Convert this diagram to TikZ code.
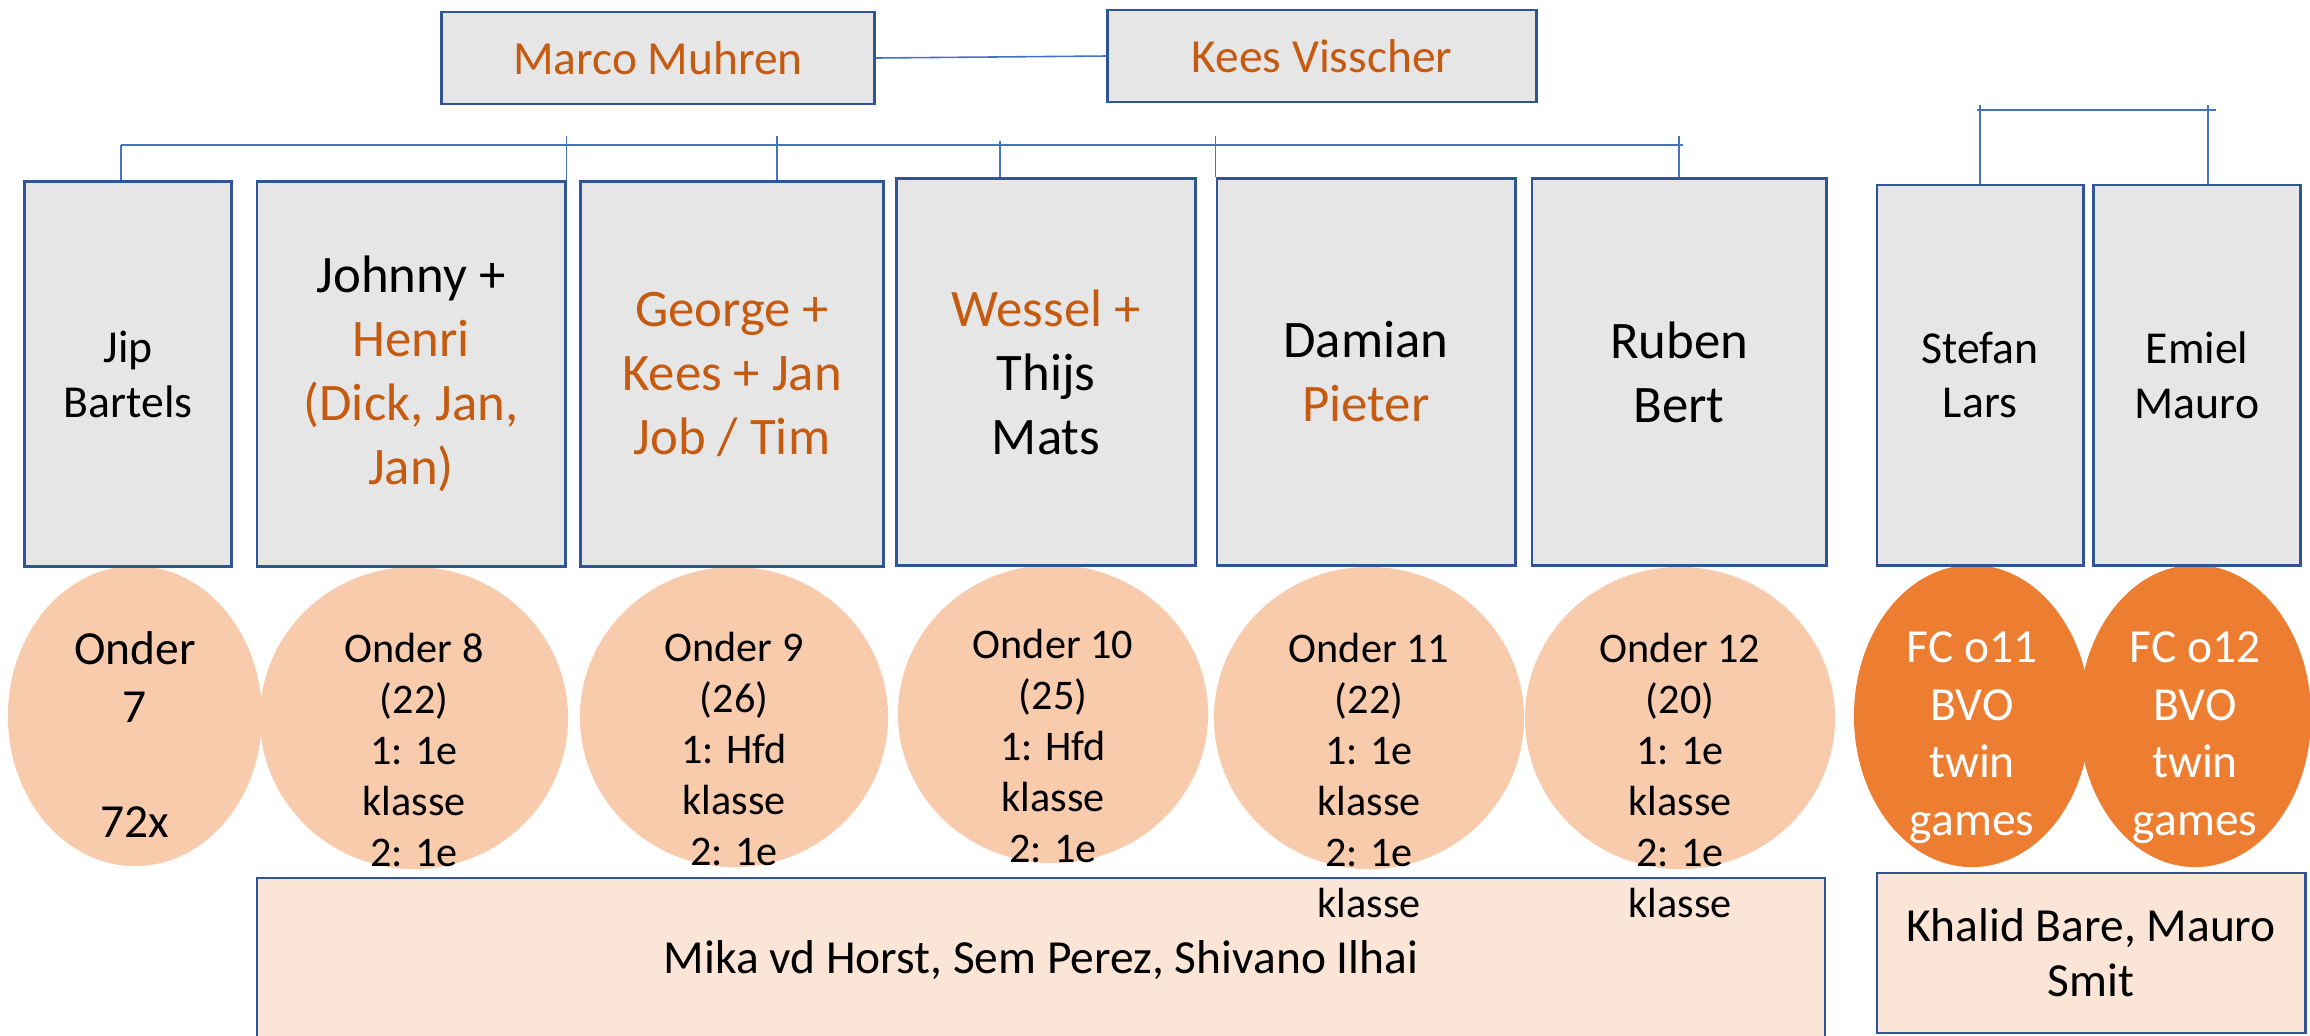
\documentclass[tikz,border=0pt]{standalone}
\usepackage{fontspec}
\setmainfont{Carlito}
\usetikzlibrary{shapes.geometric}

\definecolor{boxgray}{HTML}{E6E6E6}
\definecolor{boxblue}{HTML}{2F5597}
\definecolor{linkblue}{HTML}{4472C4}
\definecolor{nameorange}{HTML}{C55A11}
\definecolor{agepeach}{HTML}{F8CBAD}
\definecolor{fcorange}{HTML}{ED7D31}
\definecolor{poolpeach}{HTML}{FBE5D6}

\newcommand{\oc}[1]{\textcolor{nameorange}{#1}}

\tikzset{
  coach/.style={draw=boxblue, line width=0.8pt, fill=boxgray, inner sep=0pt, align=center},
  bigname/.style={font=\fontsize{15}{18.2}\selectfont},
  smallname/.style={font=\fontsize{13}{15.6}\selectfont},
  team/.style={ellipse, fill=agepeach, inner sep=0pt},
  fcteam/.style={ellipse, fill=fcorange, inner sep=0pt},
  teamtext/.style={anchor=north, inner sep=0pt, align=center, font=\fontsize{12}{14.5}\selectfont},
  fctext/.style={teamtext, text=white, font=\fontsize{13.5}{16.4}\selectfont},
  link/.style={draw=linkblue, line width=0.45pt},
  pool/.style={draw=boxblue, line width=0.8pt, fill=poolpeach, align=center, font=\fontsize{13.5}{15.6}\selectfont},
}

\begin{document}
\begin{tikzpicture}[x=0.01cm, y=-0.01cm]
\useasboundingbox (0,0) rectangle (2310,1035);

% The two heads on top
\node[coach, minimum width=4.32cm, minimum height=0.92cm, font=\fontsize{13.5}{16}\selectfont] (marco) at (658,58) {\oc{Marco Muhren}};
\node[coach, minimum width=4.29cm, minimum height=0.92cm, font=\fontsize{13.5}{16}\selectfont] (kees) at (1322,56) {\oc{Kees Visscher}};
\draw[link] (marco.east) -- (kees.west);

% The player pools below
\node[pool, minimum width=15.67cm, minimum height=1.64cm] (pool) at (1041,960) {Mika vd Horst, Sem Perez, Shivano Ilhai};
\node[pool, minimum width=4.28cm, minimum height=1.60cm] (fcpool) at (2091,953) {Khalid Bare, Mauro\\Smit};

% The age groups
\node[team, minimum width=2.54cm, minimum height=3.00cm] (u7) at (135,716) {};
\node[team, minimum width=3.08cm, minimum height=3.02cm] (u8) at (414,718) {};
\node[team, minimum width=3.08cm, minimum height=3.00cm] (u9) at (734,717) {};
\node[team, minimum width=3.10cm, minimum height=2.98cm] (u10) at (1053,714) {};
\node[team, minimum width=3.10cm, minimum height=3.02cm] (u11) at (1369,718) {};
\node[team, minimum width=3.10cm, minimum height=3.02cm] (u12) at (1680,718) {};
\node[fcteam, minimum width=2.36cm, minimum height=3.02cm] (fc11) at (1972,716) {};
\node[fcteam, minimum width=2.32cm, minimum height=3.02cm] (fc12) at (2195,716) {};

% The trainers per group
\node[coach, bigname, smallname, minimum width=2.07cm, minimum height=3.85cm] (jip) at (128,374) {Jip\\Bartels};
\node[coach, bigname, minimum width=3.08cm, minimum height=3.85cm] (johnny) at (411,374) {Johnny +\\\oc{Henri}\\\oc{(Dick, Jan,}\\\oc{Jan)}};
\node[coach, bigname, minimum width=3.03cm, minimum height=3.85cm] (george) at (732,374) {\oc{George +}\\\oc{Kees + Jan}\\\oc{Job / Tim}};
\node[coach, bigname, minimum width=2.99cm, minimum height=3.86cm] (wessel) at (1046,372) {\oc{Wessel +}\\Thijs\\Mats};
\node[coach, bigname, minimum width=2.98cm, minimum height=3.86cm] (damian) at (1366,372) {Damian\\\oc{Pieter}};
\node[coach, bigname, minimum width=2.94cm, minimum height=3.86cm] (ruben) at (1679,372) {Ruben\\Bert};
\node[coach, smallname, minimum width=2.06cm, minimum height=3.80cm] (stefan) at (1980,375) {Stefan\\Lars};
\node[coach, smallname, minimum width=2.07cm, minimum height=3.80cm] (emiel) at (2197,375) {Emiel\\Mauro};

% The bus from the heads to the trainers
\coordinate (busW) at (121,145);
\coordinate (busE) at (1683,145);
\coordinate (tickT) at (0,136);
\coordinate (gT) at (777,136);
\coordinate (wT) at (1000,141);
\draw[link] (busW) -- (busE);
\draw[link] (busW) -- (busW |- jip.north);
\draw[link] (johnny.north east |- tickT) -- (johnny.north east);
\draw[link] (gT) -- (gT |- george.north);
\draw[link] (wT) -- (wT |- wessel.north);
\draw[link] (damian.north west |- tickT) -- (damian.north west);
\draw[link] (ruben.north |- tickT) -- (ruben.north);

% The pair on the right
\coordinate (pairL) at (1977,110);
\coordinate (pairR) at (2216,110);
\coordinate (pairT) at (0,105);
\coordinate (eT) at (2208,105);
\draw[link] (pairL) -- (pairR);
\draw[link] (stefan.north |- pairT) -- (stefan.north);
\draw[link] (eT) -- (eT |- emiel.north);

% Texts in the age groups
\node[teamtext, font=\fontsize{13.5}{16.4}\selectfont] (t7) at ([yshift=0.85cm]u7.center) {Onder\\7\\\mbox{}\\72x};
\node[teamtext] (t8) at ([yshift=0.85cm]u8.center) {Onder 8\\(22)\\1: 1e\\klasse\\2: 1e};
\node[teamtext] (t9) at ([yshift=0.85cm]u9.center) {Onder 9\\(26)\\1: Hfd\\klasse\\2: 1e};
\node[teamtext] (t10) at ([yshift=0.85cm]u10.center) {Onder 10\\(25)\\1: Hfd\\klasse\\2: 1e};
\node[teamtext] (t11) at ([yshift=0.85cm]u11.center) {Onder 11\\(22)\\1: 1e\\klasse\\2: 1e\\klasse};
\node[teamtext] (t12) at ([yshift=0.85cm]u12.center) {Onder 12\\(20)\\1: 1e\\klasse\\2: 1e\\klasse};
\node[fctext] (tfc11) at ([yshift=0.85cm]fc11.center) {FC o11\\BVO\\twin\\games};
\node[fctext] (tfc12) at ([yshift=0.85cm]fc12.center) {FC o12\\BVO\\twin\\games};

\end{tikzpicture}
\end{document}
